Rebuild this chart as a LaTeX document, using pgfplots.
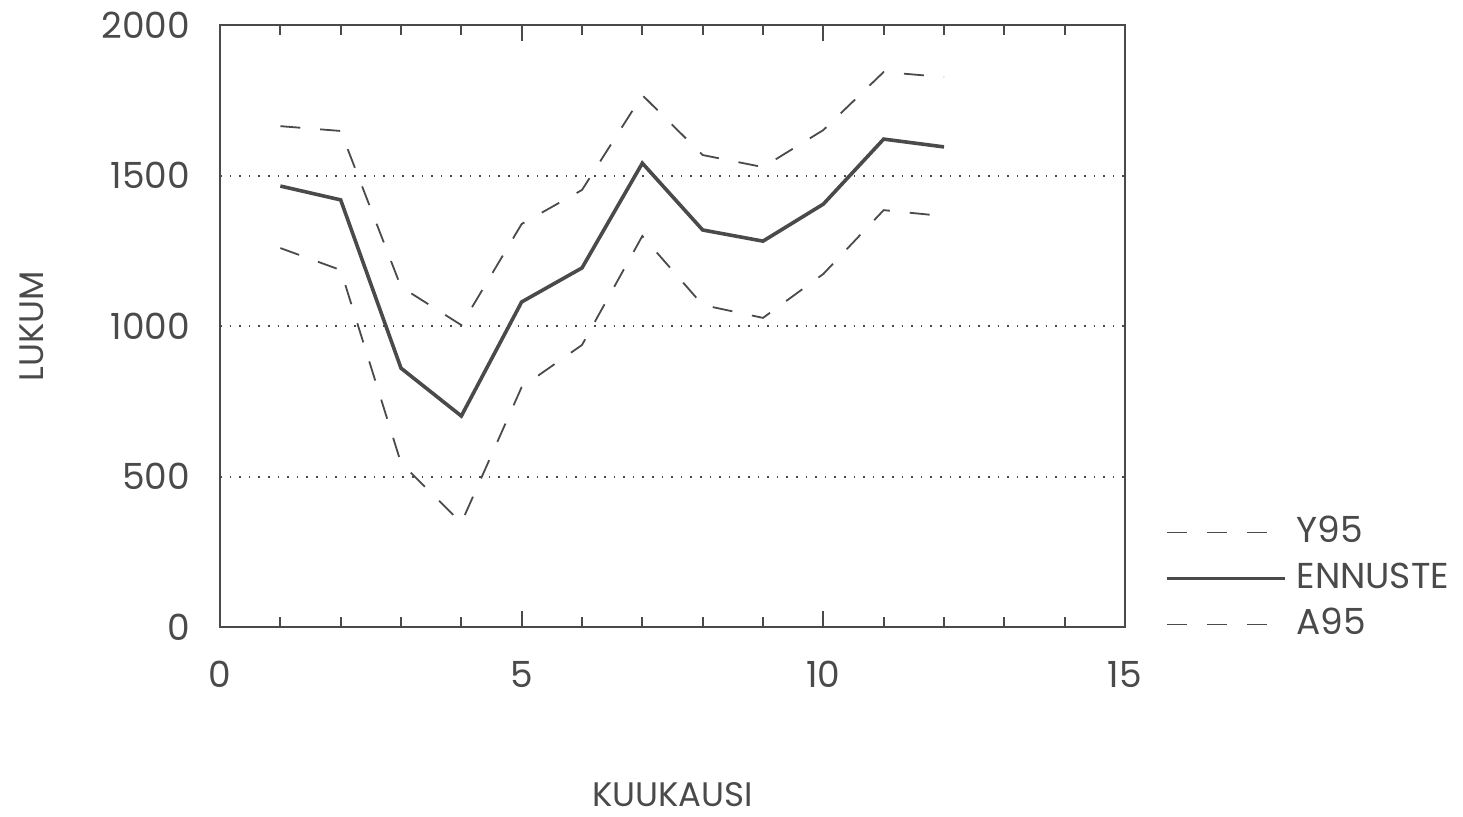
\documentclass[border=0pt]{standalone}
\usepackage{pgfplots}
\pgfplotsset{compat=1.18}
\usepackage{fontspec}
\setmainfont{Poppins}
\definecolor{ink}{HTML}{4A4A4A}
\begin{document}
\begin{tikzpicture}
\path[use as bounding box] (-55pt,-47.25pt) rectangle (310.75pt,156.75pt);
\begin{axis}[
  at={(0,0)}, anchor=origin,
  scale only axis,
  width=226.25pt, height=150.5pt,
  xmin=0, xmax=15, ymin=0, ymax=2000,
  xtick={0,5,10,15}, minor x tick num=4,
  xtick pos=both,
  ytick={0,500,1000,1500,2000},
  tick align=inside,
  major tick length=4pt, minor tick length=2.5pt,
  y tick style={draw=none},
  x tick style={ink, line width=0.5pt},
  axis line style={ink, line width=0.5pt},
  ymajorgrids,
  grid style={ink, dotted, line width=0.5pt},
  /pgf/number format/assume math mode=true,
  /pgf/number format/1000 sep={},
  tick label style={font=\fontsize{9}{10}\selectfont, text=ink},
  xticklabel style={yshift=-5pt},
  yticklabel style={xshift=-4pt},
  xlabel={KUUKAUSI}, ylabel={LUKUM},
  label style={font=\fontsize{8.5}{10}\selectfont, text=ink},
  xlabel style={at={(rel axis cs:0.5,-0.278)}, anchor=center},
  ylabel style={at={(rel axis cs:-0.208,0.5)}, anchor=center},
  legend style={at={(1.030,0.212)}, anchor=north west, draw=none, fill=none,
    font=\fontsize{9}{10}\selectfont, text=ink, row sep=-0.5pt,
    nodes={inner xsep=2.5pt},
    legend cell align=left},
  legend image code/.code={\draw[#1] (0pt,0pt) -- (29.5pt,0pt);},
]
\addplot[ink, line width=0.45pt, dash pattern=on 5pt off 5pt] coordinates {
(1,1664) (2,1648) (3,1130) (4,1003) (5,1339) (6,1452) (7,1767) (8,1568) (9,1528) (10,1651) (11,1844) (12,1827)};
\addlegendentry{Y95}
\addplot[ink, line width=0.9pt] coordinates {
(1,1465) (2,1419) (3,860) (4,701) (5,1080) (6,1193) (7,1541) (8,1319) (9,1282) (10,1405) (11,1621) (12,1595)};
\addlegendentry{ENNUSTE}
\addplot[ink, line width=0.45pt, dash pattern=on 5pt off 5pt] coordinates {
(1,1259) (2,1186) (3,545) (4,346) (5,797) (6,937) (7,1299) (8,1070) (9,1027) (10,1173) (11,1385) (12,1365)};
\addlegendentry{A95}
\end{axis}
\end{tikzpicture}
\end{document}
